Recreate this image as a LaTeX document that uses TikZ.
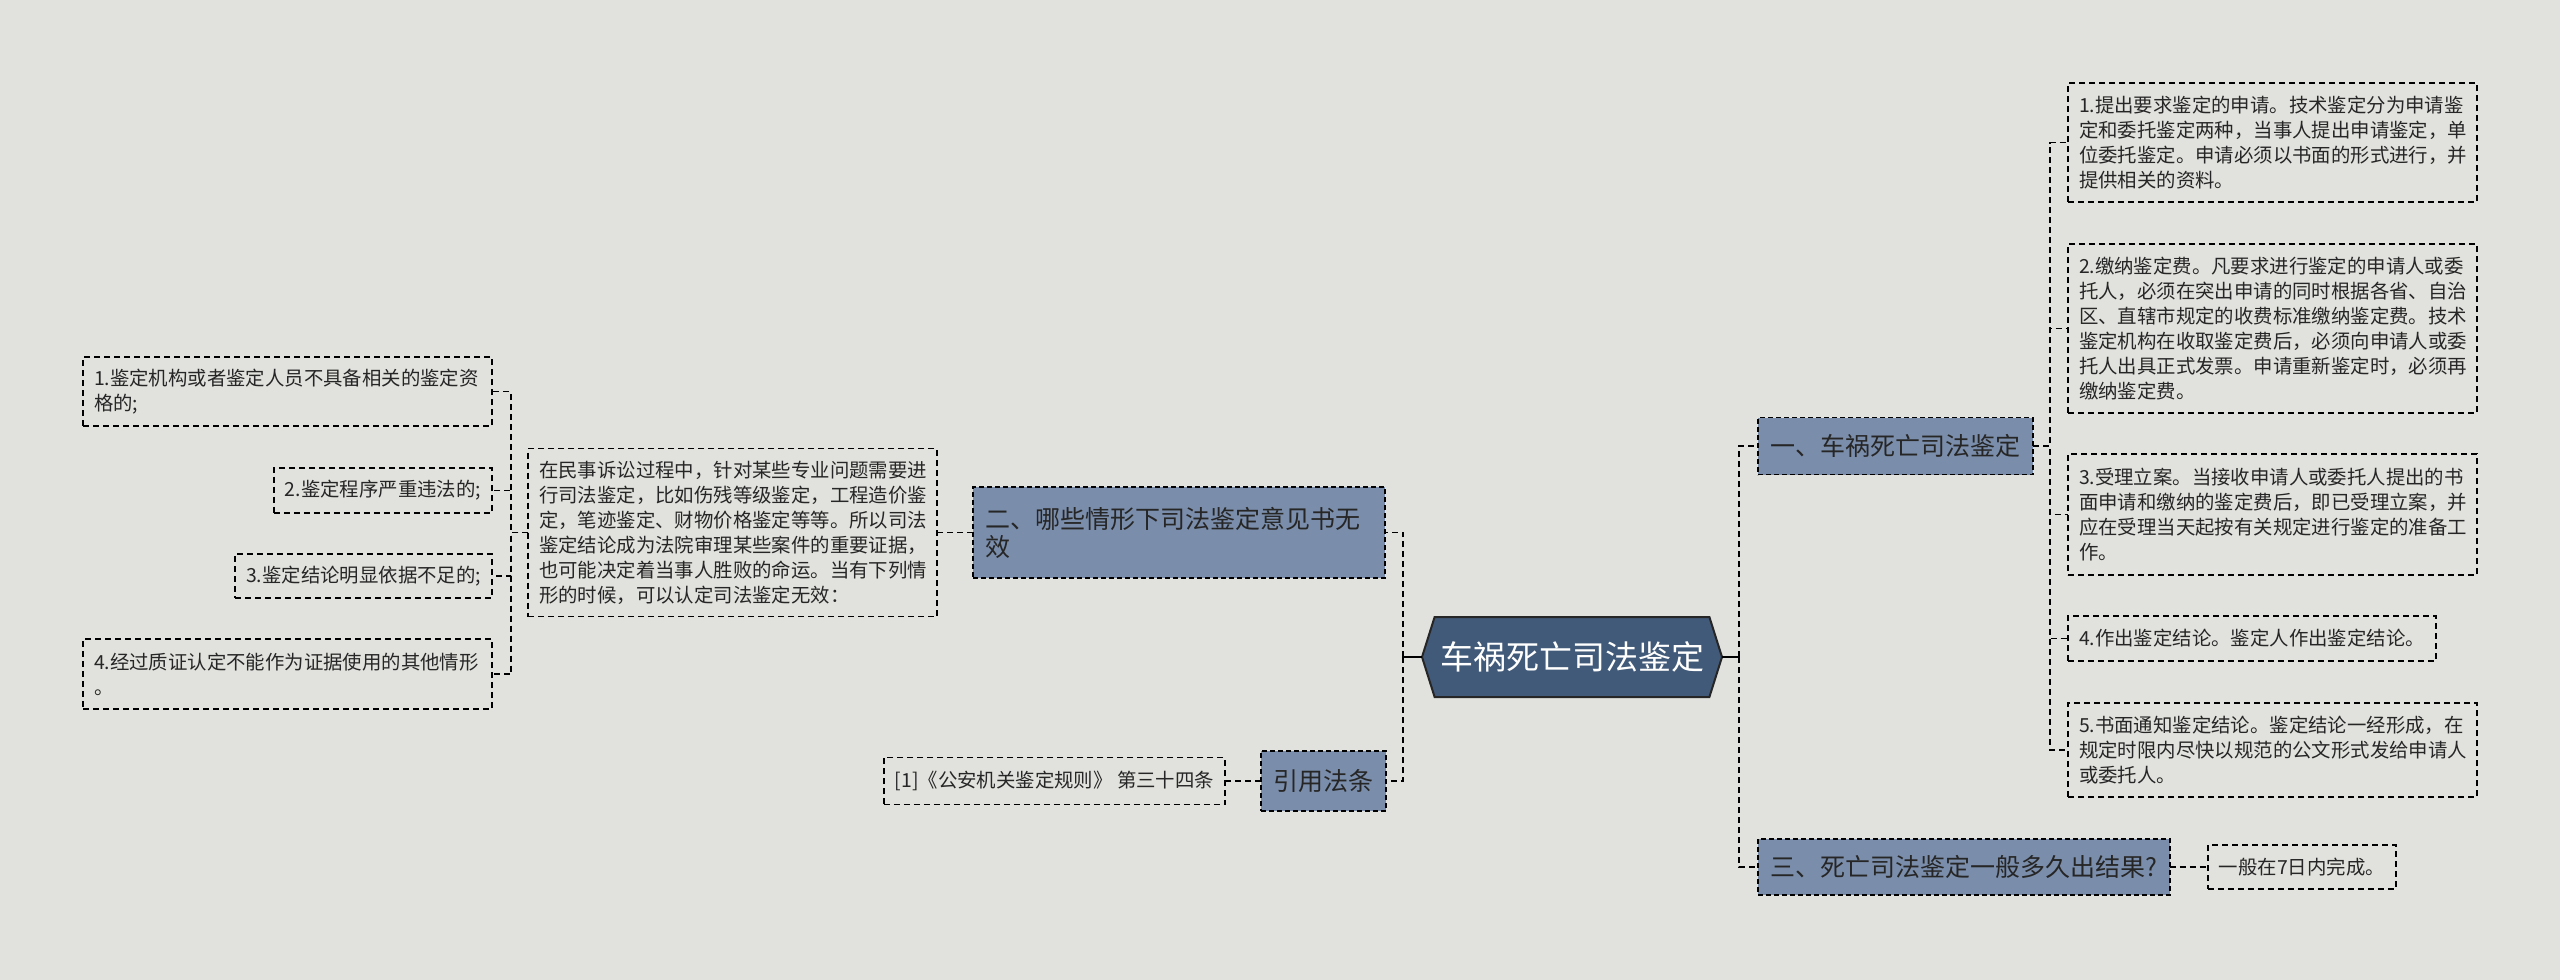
\documentclass[tikz,border=0pt]{standalone}
\usepackage{fontspec}
\setmainfont{Noto Sans CJK SC}
\usetikzlibrary{positioning}
\usetikzlibrary{shapes.symbols}

\definecolor{bgcol}{RGB}{225,226,221}
\definecolor{rootcol}{RGB}{66,90,121}
\definecolor{branchcol}{RGB}{122,141,170}
\definecolor{textcol}{RGB}{38,38,38}

\begin{document}
\begin{tikzpicture}[x=1pt,y=-1pt,
  every node/.style={inner sep=0pt,outer sep=0pt},
  link/.style={draw=black,line width=1.7pt,dash pattern=on 6pt off 4pt},
  rootnode/.style={shape=signal,signal to=west and east,signal pointer angle=145,fill=rootcol,draw=black!85,line width=2pt,text=white,font=\fontsize{33}{40}\selectfont,minimum width=300pt,minimum height=80pt},
  branch/.style={draw=black,fill=branchcol,line width=1.5pt,dash pattern=on 5pt off 3pt,text=textcol,font=\fontsize{25}{28}\selectfont,align=left,inner xsep=12.5pt},
  leaf/.style={draw=black,line width=1.6pt,dash pattern=on 6pt off 4pt,text=textcol,font=\fontsize{19.4}{25}\selectfont,align=left,inner xsep=11pt}]
  \fill[bgcol] (0,0) rectangle (2560,980);
  \useasboundingbox (0,0) rectangle (2560,980);

  \node[rootnode] (root) at (1572,657) {车祸死亡司法鉴定};

  % right side
  \node[branch,anchor=west,minimum height=57pt] (b1) at (1758,446) {一、车祸死亡司法鉴定};
  \node[branch,anchor=west,minimum height=56pt] (b3) at (1758,867) {三、死亡司法鉴定一般多久出结果?};
  \node[leaf,right=38pt of b3,minimum height=44pt] (t3) {一般在7日内完成。};

  \node[leaf,anchor=west,text width=387pt,minimum height=119pt] (r1) at (2068,142.5) {1.提出要求鉴定的申请。技术鉴定分为申请鉴\\定和委托鉴定两种，当事人提出申请鉴定，单\\位委托鉴定。申请必须以书面的形式进行，并\\提供相关的资料。};
  \node[leaf,anchor=west,text width=387pt,minimum height=169pt] (r2) at (2068,328.5) {2.缴纳鉴定费。凡要求进行鉴定的申请人或委\\托人，必须在突出申请的同时根据各省、自治\\区、直辖市规定的收费标准缴纳鉴定费。技术\\鉴定机构在收取鉴定费后，必须向申请人或委\\托人出具正式发票。申请重新鉴定时，必须再\\缴纳鉴定费。};
  \node[leaf,anchor=west,text width=387pt,minimum height=121pt] (r3) at (2068,514.5) {3.受理立案。当接收申请人或委托人提出的书\\面申请和缴纳的鉴定费后，即已受理立案，并\\应在受理当天起按有关规定进行鉴定的准备工\\作。};
  \node[leaf,anchor=west,minimum height=45pt] (r4) at (2068,638.5) {4.作出鉴定结论。鉴定人作出鉴定结论。};
  \node[leaf,anchor=west,text width=387pt,minimum height=94pt] (r5) at (2068,750) {5.书面通知鉴定结论。鉴定结论一经形成，在\\规定时限内尽快以规范的公文形式发给申请人\\或委托人。};

  % left side
  \node[branch,anchor=east,text width=387pt,minimum height=91pt] (b2) at (1385,532.5) {二、哪些情形下司法鉴定意见书无\\效};
  \node[branch,anchor=east,minimum height=60pt] (cite) at (1386,781) {引用法条};
  \node[leaf,left=36pt of cite,minimum height=47pt] (citeleaf) {[1]《公安机关鉴定规则》 第三十四条};

  \node[leaf,left=36pt of b2,text width=387pt,minimum height=168pt] (para) {在民事诉讼过程中，针对某些专业问题需要进\\行司法鉴定，比如伤残等级鉴定，工程造价鉴\\定，笔迹鉴定、财物价格鉴定等等。所以司法\\鉴定结论成为法院审理某些案件的重要证据，\\也可能决定着当事人胜败的命运。当有下列情\\形的时候，可以认定司法鉴定无效：};

  \node[leaf,anchor=east,text width=387pt,minimum height=69pt] (l1) at (492,391.5) {1.鉴定机构或者鉴定人员不具备相关的鉴定资\\格的;};
  \node[leaf,anchor=east,minimum height=45pt] (l2) at (492,490.5) {2.鉴定程序严重违法的;};
  \node[leaf,anchor=east,minimum height=44pt] (l3) at (492,576) {3.鉴定结论明显依据不足的;};
  \node[leaf,anchor=east,text width=387pt,minimum height=70pt] (l4) at (492,674) {4.经过质证认定不能作为证据使用的其他情形\\。};

  % connectors
  \draw[line width=2.4pt] (root.east) -- ++(17,0);
  \draw[line width=2.4pt] (root.west) -- ++(-19,0);
  \draw[link] (root.east) ++(17,0) |- (b1.west);
  \draw[link] (root.east) ++(17,0) |- (b3.west);
  \draw[link] (root.west) ++(-19,0) |- (b2.east);
  \draw[link] (root.west) ++(-19,0) |- (cite.east);
  \foreach \n in {r1,r2,r3,r4,r5}
    \draw[link] (b1.east) -- ++(17,0) |- (\n.west);
  \draw[link] (b3.east) -- (t3.west);
  \draw[link] (b2.west) -- (para.east);
  \draw[link] (cite.west) -- (citeleaf.east);
  \foreach \n in {l1,l2,l3,l4}
    \draw[link] (para.west) -- ++(-17,0) |- (\n.east);
\end{tikzpicture}
\end{document}
